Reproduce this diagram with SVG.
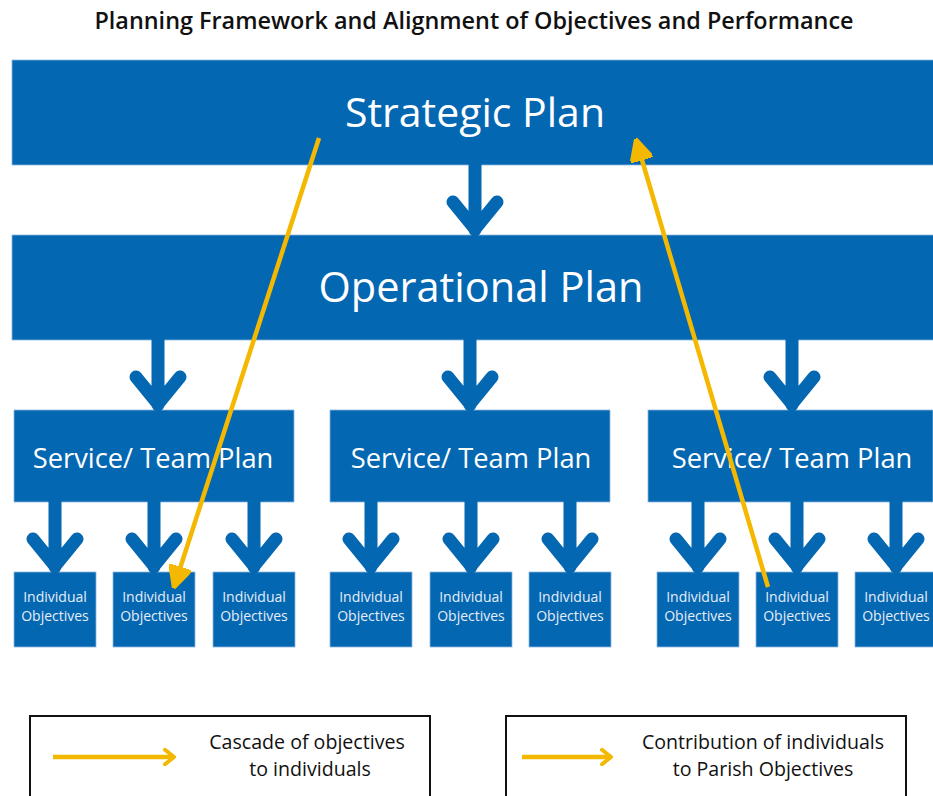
<svg xmlns="http://www.w3.org/2000/svg" width="933" height="796" viewBox="0 0 933 796">
<defs>
<style>
.box{fill:#0467B2;stroke:#8DB7E0;stroke-width:0.8}
.t{font-family:"Open Sans","Noto Sans","Liberation Sans",sans-serif;fill:#fff;text-anchor:middle}
.big{font-size:41px}
.svc{font-size:27.3px}
.ind{font-size:14px;fill:#E6EEF8}
.blk{font-family:"Open Sans","Noto Sans","Liberation Sans",sans-serif;fill:#111;text-anchor:middle}
.arr{fill:none;stroke:#0467B2;stroke-width:13;stroke-linecap:round;stroke-linejoin:round}
.yl{fill:none;stroke:#F4B800;stroke-width:4.5}
.leg{fill:#fff;stroke:#111;stroke-width:2}
.lt{font-size:19.6px}
</style>
<marker id="yh" viewBox="0 0 10 10" refX="8" refY="5" markerWidth="5" markerHeight="5" orient="auto" markerUnits="strokeWidth">
<path d="M0,0 L10,5 L0,10 z" fill="#F4B800" stroke="#F4B800" stroke-width="1.5" stroke-linejoin="round"/>
</marker>
<marker id="yh2" viewBox="0 0 10 10" refX="6" refY="5" markerWidth="4" markerHeight="4" orient="auto" markerUnits="strokeWidth">
<path d="M1,1 L6,5 L1,9" fill="none" stroke="#F4B800" stroke-width="2.2" stroke-linecap="round" stroke-linejoin="round"/>
</marker>
</defs>
<rect width="933" height="796" fill="#fff"/>
<text class="blk" x="474" y="29" font-size="23.4" font-weight="600">Planning Framework and Alignment of Objectives and Performance</text>

<g id="strategic"><rect class="box" x="12" y="60" width="925" height="105"/><text class="t big" x="475" y="127">Strategic Plan</text></g>
<g id="operational"><rect class="box" x="12" y="235" width="925" height="105"/><text class="t big" x="481" y="302" style="font-size:41.5px">Operational Plan</text></g>

<g id="service1"><rect class="box" x="14" y="410" width="280" height="92"/><text class="t svc" x="153" y="468">Service/ Team Plan</text></g>
<g id="service2"><rect class="box" x="330" y="410" width="280" height="92"/><text class="t svc" x="471" y="468">Service/ Team Plan</text></g>
<g id="service3"><rect class="box" x="648" y="410" width="285" height="92"/><text class="t svc" x="792" y="468">Service/ Team Plan</text></g>

<g id="ind1"><rect class="box" x="14" y="572" width="82" height="75"/><text class="t ind" x="55" y="602">Individual</text><text class="t ind" x="55" y="621">Objectives</text></g>
<g id="ind2"><rect class="box" x="113" y="572" width="82" height="75"/><text class="t ind" x="154" y="602">Individual</text><text class="t ind" x="154" y="621">Objectives</text></g>
<g id="ind3"><rect class="box" x="213" y="572" width="82" height="75"/><text class="t ind" x="254" y="602">Individual</text><text class="t ind" x="254" y="621">Objectives</text></g>
<g id="ind4"><rect class="box" x="330" y="572" width="82" height="75"/><text class="t ind" x="371" y="602">Individual</text><text class="t ind" x="371" y="621">Objectives</text></g>
<g id="ind5"><rect class="box" x="430" y="572" width="82" height="75"/><text class="t ind" x="471" y="602">Individual</text><text class="t ind" x="471" y="621">Objectives</text></g>
<g id="ind6"><rect class="box" x="529" y="572" width="82" height="75"/><text class="t ind" x="570" y="602">Individual</text><text class="t ind" x="570" y="621">Objectives</text></g>
<g id="ind7"><rect class="box" x="657" y="572" width="82" height="75"/><text class="t ind" x="698" y="602">Individual</text><text class="t ind" x="698" y="621">Objectives</text></g>
<g id="ind8"><rect class="box" x="756" y="572" width="82" height="75"/><text class="t ind" x="797" y="602">Individual</text><text class="t ind" x="797" y="621">Objectives</text></g>
<g id="ind9"><rect class="box" x="855" y="572" width="82" height="75"/><text class="t ind" x="896" y="602">Individual</text><text class="t ind" x="896" y="621">Objectives</text></g>

<g id="connectors">
<path class="arr" d="M475,165 V230 M453,202 L475,229 L497,202"/>
<path class="arr" d="M158,340 V405 M136,377 L158,404 L180,377"/>
<path class="arr" d="M470,340 V405 M448,377 L470,404 L492,377"/>
<path class="arr" d="M792,340 V405 M770,377 L792,404 L814,377"/>
<path class="arr" d="M55,502 V567 M33,539 L55,566 L77,539"/>
<path class="arr" d="M154,502 V567 M132,539 L154,566 L176,539"/>
<path class="arr" d="M254,502 V567 M232,539 L254,566 L276,539"/>
<path class="arr" d="M371,502 V567 M349,539 L371,566 L393,539"/>
<path class="arr" d="M471,502 V567 M449,539 L471,566 L493,539"/>
<path class="arr" d="M570,502 V567 M548,539 L570,566 L592,539"/>
<path class="arr" d="M698,502 V567 M676,539 L698,566 L720,539"/>
<path class="arr" d="M797,502 V567 M775,539 L797,566 L819,539"/>
<path class="arr" d="M896,502 V567 M874,539 L896,566 L918,539"/>
<line class="yl" x1="319" y1="138" x2="175" y2="584" marker-end="url(#yh)"/>
<line class="yl" x1="768" y1="587" x2="637" y2="143" marker-end="url(#yh)"/>
</g>

<g id="legend1">
<rect class="leg" x="30" y="716" width="400" height="90"/>
<line class="yl" x1="53" y1="757" x2="174" y2="757" stroke-width="5" marker-end="url(#yh2)"/>
<text class="blk lt" x="307" y="749">Cascade of objectives</text>
<text class="blk lt" x="310" y="776">to individuals</text>
</g>
<g id="legend2">
<rect class="leg" x="506" y="716" width="400" height="90"/>
<line class="yl" x1="522" y1="757" x2="611" y2="757" stroke-width="5" marker-end="url(#yh2)"/>
<text class="blk lt" x="763" y="749">Contribution of individuals</text>
<text class="blk lt" x="763" y="776">to Parish Objectives</text>
</g>
</svg>
